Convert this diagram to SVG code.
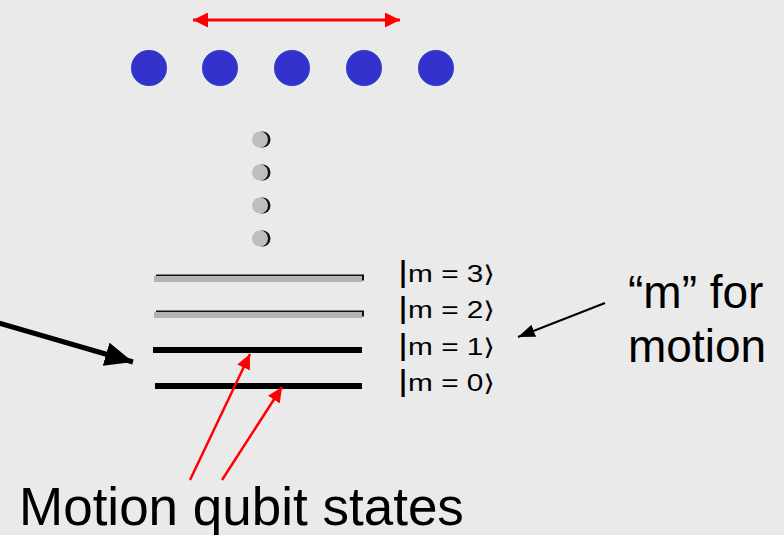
<svg xmlns="http://www.w3.org/2000/svg" width="784" height="535" viewBox="0 0 784 535">
  <defs>
    <marker id="redHead" viewBox="0 0 15 15" refX="15" refY="7.5" markerWidth="15" markerHeight="15" markerUnits="userSpaceOnUse" orient="auto-start-reverse">
      <path d="M0,0 L15,7.5 L0,15 Z" fill="#FF0000"/>
    </marker>
    <marker id="redTip" viewBox="0 0 15 14" refX="15" refY="7" markerWidth="15" markerHeight="14" markerUnits="userSpaceOnUse" orient="auto">
      <path d="M0,0 L15,7 L0,14 Z" fill="#FF0000"/>
    </marker>
    <marker id="blackBig" viewBox="0 0 28 24" refX="28" refY="12" markerWidth="28" markerHeight="24" markerUnits="userSpaceOnUse" orient="auto">
      <path d="M0,0 L28,12 L0,24 Z" fill="#000"/>
    </marker>
    <marker id="blackSmall" viewBox="0 0 17 13" refX="17" refY="6.5" markerWidth="17" markerHeight="13" markerUnits="userSpaceOnUse" orient="auto">
      <path d="M0,0 L17,6.5 L0,13 Z" fill="#000"/>
    </marker>
  </defs>
  <style>
    .ion { fill: #3333CC; }
    .dot { fill: #BEBEBE; }
    .dotShade { fill: #111; }
    .lvlShade { fill: #111; }
    .lvlGray { fill: #B2B2B2; }
    .lvlBlack { fill: #000; }
    .ket { font-family: "Liberation Sans", Arial, "DejaVu Sans", sans-serif; font-size: 23px; fill: #000; }
    .bar { font-size: 30px; }
    .big { font-family: "Liberation Sans", Arial, sans-serif; fill: #000; }
  </style>

  <rect width="784" height="535" fill="#EAEAEA"/>

  <!-- ion chain -->
  <g id="ions">
    <circle class="ion" cx="149" cy="68" r="18"/>
    <circle class="ion" cx="220" cy="68" r="18"/>
    <circle class="ion" cx="292" cy="68" r="18"/>
    <circle class="ion" cx="364" cy="68" r="18"/>
    <circle class="ion" cx="436" cy="68" r="18"/>
  </g>

  <!-- ellipsis dots -->
  <g id="ellipsis">
    <circle class="dotShade" cx="262.5" cy="139.5" r="8"/>
    <circle class="dot" cx="260" cy="139.5" r="8"/>
    <circle class="dotShade" cx="262.5" cy="172.5" r="8"/>
    <circle class="dot" cx="260" cy="172.5" r="8"/>
    <circle class="dotShade" cx="262.5" cy="205.5" r="8"/>
    <circle class="dot" cx="260" cy="205.5" r="8"/>
    <circle class="dotShade" cx="262.5" cy="238.5" r="8"/>
    <circle class="dot" cx="260" cy="238.5" r="8"/>
  </g>

  <!-- energy levels -->
  <g id="level-m3">
    <rect class="lvlShade" x="156" y="274.5" width="208" height="6"/>
    <rect class="lvlGray" x="154" y="276" width="208" height="6"/>
    <text class="ket" x="398" y="282" textLength="97" lengthAdjust="spacingAndGlyphs"><tspan class="bar">|</tspan>m = 3⟩</text>
  </g>
  <g id="level-m2">
    <rect class="lvlShade" x="156" y="310.5" width="208" height="6"/>
    <rect class="lvlGray" x="154" y="312" width="208" height="6"/>
    <text class="ket" x="398" y="318" textLength="97" lengthAdjust="spacingAndGlyphs"><tspan class="bar">|</tspan>m = 2⟩</text>
  </g>
  <g id="level-m1">
    <rect class="lvlBlack" x="153" y="347" width="209" height="6"/>
    <text class="ket" x="398" y="355" textLength="97" lengthAdjust="spacingAndGlyphs"><tspan class="bar">|</tspan>m = 1⟩</text>
  </g>
  <g id="level-m0">
    <rect class="lvlBlack" x="155" y="383" width="207" height="6"/>
    <text class="ket" x="398" y="391" textLength="97" lengthAdjust="spacingAndGlyphs"><tspan class="bar">|</tspan>m = 0⟩</text>
  </g>

  <!-- labels -->
  <g id="label-motion">
    <text class="big" x="628" y="308" font-size="46">“m” for</text>
    <text class="big" x="628" y="362" font-size="46">motion</text>
  </g>
  <g id="label-qubit">
    <text class="big" x="19" y="525" font-size="53">Motion qubit states</text>
  </g>

  <!-- connectors -->
  <g id="connectors" fill="none">
    <line x1="193" y1="20" x2="400" y2="20" stroke="#FF0000" stroke-width="3" marker-start="url(#redHead)" marker-end="url(#redHead)"/>
    <line x1="-10" y1="320.5" x2="133" y2="362" stroke="#000" stroke-width="5" marker-end="url(#blackBig)"/>
    <line x1="605" y1="303" x2="518" y2="337" stroke="#000" stroke-width="2" marker-end="url(#blackSmall)"/>
    <line x1="190" y1="480" x2="250" y2="354" stroke="#FF0000" stroke-width="2.5" marker-end="url(#redTip)"/>
    <line x1="222" y1="480" x2="282" y2="387" stroke="#FF0000" stroke-width="2.5" marker-end="url(#redTip)"/>
  </g>
</svg>
